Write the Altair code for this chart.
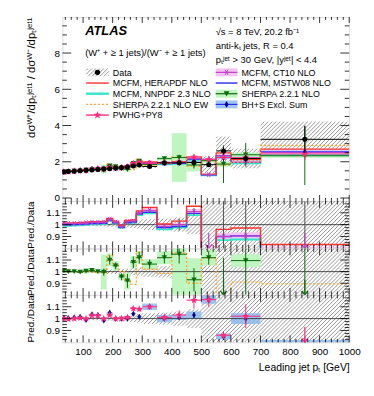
import math
import pandas as pd
import altair as alt

# ---------------- values ----------------
edges = [30, 40, 60, 80, 100, 120, 140, 160, 180, 200, 220, 240, 260, 280, 300,
         350, 400, 450, 500, 550, 600, 700, 1000]
data_val = [1.44, 1.46, 1.48, 1.50, 1.53, 1.55, 1.57, 1.60, 1.62, 1.65, 1.68, 1.71, 1.77, 1.82,
            1.74, 1.94, 1.94, 1.96, 1.84, 2.60, 2.18, 3.24]
data_stat = [0.010, 0.010, 0.010, 0.010, 0.010, 0.012, 0.012, 0.015, 0.015, 0.020, 0.020, 0.025, 0.030, 0.035,
             0.040, 0.060, 0.070, 0.090, 0.100, 0.200, 0.180, 0.750]
data_unc = [0.012, 0.010, 0.010, 0.010, 0.012, 0.012, 0.014, 0.015, 0.018, 0.020, 0.022, 0.025, 0.030, 0.035,
            0.045, 0.050, 0.060, 0.080, 0.250, 0.300, 0.250, 0.300]
r_herapdf = [1.012, 1.012, 1.014, 1.016, 1.020, 1.025, 1.025, 1.028, 1.053, 1.030, 0.995, 1.035, 1.040, 1.115,
             1.145, 1.005, 1.030, 1.155, 0.720, 0.960, 0.972, 0.833]
r_ct10 = [1.010, 1.010, 1.010, 1.012, 1.015, 1.020, 1.020, 1.022, 1.045, 1.022, 0.985, 1.025, 1.030, 1.100,
          1.120, 0.985, 1.000, 1.110, 0.700, 0.900, 0.905, 0.775]
r_ct10_unc = [0.008, 0.008, 0.008, 0.008, 0.008, 0.008, 0.008, 0.008, 0.008, 0.008, 0.008, 0.008, 0.008, 0.010,
              0.012, 0.015, 0.015, 0.020, 0.030, 0.035, 0.035, 0.050]
r_ct10_err = [0.004, 0.004, 0.004, 0.004, 0.005, 0.005, 0.005, 0.006, 0.006, 0.006, 0.007, 0.008, 0.008, 0.010,
              0.012, 0.015, 0.050, 0.030, 0.100, 0.350, 0.300, 0.500]
r_mstw = [0.998, 0.998, 1.000, 1.002, 1.005, 1.010, 1.010, 1.012, 1.038, 1.015, 0.980, 1.018, 1.022, 1.090,
          1.105, 0.975, 0.985, 1.095, 0.690, 0.900, 0.905, 0.785]
r_nnpdf = [0.990, 0.990, 0.992, 0.995, 0.998, 1.002, 1.002, 1.005, 1.030, 1.008, 0.972, 1.010, 1.015, 1.080,
           1.095, 0.960, 0.975, 1.080, 0.680, 0.870, 0.875, 0.730]
r_sherpa = [1.006, 1.000, 1.000, 0.995, 1.005, 1.010, 1.000, 0.995, 1.100, 1.050, 0.955, 0.920, 1.080, 1.120,
            1.065, 1.120, 1.150, 0.930, 1.120, 0.720, 1.095, 0.720]
r_sherpa_unc = [0.010, 0.008, 0.008, 0.010, 0.020, 0.015, 0.015, 0.150, 0.050, 0.040, 0.030, 0.080, 0.050, 0.050,
                0.040, 0.050, 0.600, 0.200, 0.060, 0.080, 0.050, 0.050]
r_sherpa_err = [0.008, 0.006, 0.006, 0.008, 0.010, 0.010, 0.012, 0.030, 0.040, 0.030, 0.030, 0.060, 0.050, 0.050,
                0.040, 0.050, 0.080, 0.100, 0.060, 0.400, 0.300, 0.500]
r_sherpa_ew = [1.006, 1.000, 1.000, 0.995, 1.000, 1.005, 0.995, 0.990, 1.140, 1.060, 1.000, 0.930, 0.890, 1.170,
               1.020, 0.985, 1.160, 0.900, 1.120, 0.700, 0.910, 0.895]
r_pwhg = [1.000, 0.995, 1.000, 1.005, 1.000, 1.025, 1.025, 1.000, 1.030, 1.000, 1.000, 1.010, 1.085, 1.080,
          1.100, 1.010, 1.030, 1.155, 1.160, 0.860, 1.020, 0.750]
r_pwhg_err = [0.010, 0.010, 0.010, 0.010, 0.010, 0.010, 0.010, 0.012, 0.012, 0.012, 0.012, 0.015, 0.020, 0.020,
              0.020, 0.030, 0.040, 0.070, 0.060, 0.030, 0.100, 0.100]
r_bhs = [1.005, 1.005, 1.010, 1.015, 0.990, 1.035, 1.030, 0.985, 1.050, 1.000, 1.000, 1.000, 1.040, 1.015,
         1.100, 1.000, 1.010, 1.030, 1.160, 0.850, 1.000, 0.780]
r_bhs_unc = [0.006, 0.006, 0.006, 0.006, 0.006, 0.006, 0.006, 0.006, 0.006, 0.006, 0.006, 0.006, 0.006, 0.006,
             0.025, 0.030, 0.020, 0.030, 0.030, 0.030, 0.045, 0.050]
r_bhs_err = [0.006, 0.006, 0.006, 0.006, 0.006, 0.008, 0.008, 0.008, 0.010, 0.010, 0.010, 0.010, 0.012, 0.012,
             0.015, 0.020, 0.020, 0.025, 0.030, 0.030, 0.040, 0.050]

x_major = [100, 200, 300, 400, 500, 600, 700, 800, 900, 1000]
x_minor = [40, 60, 80, 120, 140, 160, 180, 220, 240, 260, 280, 320, 340, 360, 380, 420, 440, 460, 480,
           520, 540, 560, 580, 620, 640, 660, 680, 720, 740, 760, 780, 820, 840, 860, 880, 920, 940, 960, 980]
main_y_major = [0, 2, 4, 6, 8]
main_y_minor = [0.5, 1, 1.5, 2.5, 3, 3.5, 4.5, 5, 5.5, 6.5, 7, 7.5, 8.5, 9, 9.5]
ratio_y_major = [0.9, 1.0, 1.1]
ratio_y_minor = [0.825, 0.85, 0.875, 0.925, 0.95, 0.975, 1.025, 1.05, 1.075, 1.125, 1.15, 1.175]

legend_left = ["Data", "MCFM, HERAPDF NLO", "MCFM, NNPDF 2.3 NLO", "SHERPA 2.2.1 NLO EW", "PWHG+PY8"]
legend_right = ["MCFM, CT10 NLO", "MCFM, MSTW08 NLO", "SHERPA 2.2.1 NLO", "BH+S Excl. Sum"]

# ---------------- layout / style ----------------
W = 290
X0, X1 = 30.0, 1000.0
H_MAIN = 186
H_R = [48, 47, 48]
DOM_MAIN = [-0.16, 9.99]
DOM_R = [0.8, 1.2]
FONT = "Liberation Sans"

C_RED = "#ff3030"
C_CYAN = "#30e8c8"
C_ORANGE = "#ffa530"
C_PINK = "#ff2a7f"
C_MAG = "#c040c8"
C_MAG_BAND = "#f4c4f0"
C_BLUE = "#2a2aff"
C_GREEN = "#0b6b0b"
C_GREEN_BAND = "#bff5bf"
C_NAVY = "#0a0a80"
C_BLUE_BAND = "#86b8ee"
C_HATCH = "#505050"


def star_path(n=5, r_in=0.42):
    pts = []
    for i in range(2 * n):
        ang = -math.pi / 2 + i * math.pi / n
        r = 1.0 if i % 2 == 0 else r_in
        pts.append((r * math.cos(ang), r * math.sin(ang)))
    return "M" + "L".join(f"{x:.3f},{y:.3f}" for x, y in pts) + "Z"


STAR = star_path()
ASTER = "M-1,0L1,0M-0.5,-0.87L0.5,0.87M-0.5,0.87L0.5,-0.87"
DIAMOND = "M0,-1L0.62,0L0,1L-0.62,0Z"
ARROWHEAD = "M-1,-0.3L0,1L1,-0.3"

lo = edges[:-1]
hi = edges[1:]
ctr = [(a + b) / 2 for a, b in zip(lo, hi)]

XSC = alt.Scale(domain=[X0, X1], nice=False, zero=False)


class Panel:
    def __init__(self, dom, H, yaxis, xaxis=None):
        self.dom = dom
        self.H = H
        self.yaxis = yaxis
        self.xaxis = xaxis
        self.layers = []

    def X(self, f):
        return alt.X(f"{f}:Q", scale=XSC, axis=self.xaxis)

    def Y(self, f):
        return alt.Y(f"{f}:Q", scale=alt.Scale(domain=self.dom, nice=False, zero=False), axis=self.yaxis)

    def add(self, layer):
        self.layers.append(layer)

    def hatch(self, ylo, yhi, xlo=None, xhi=None, s=4.0):
        xlo = lo if xlo is None else xlo
        xhi = hi if xhi is None else xhi
        kx = W / (X1 - X0)
        ky = self.H / (self.dom[1] - self.dom[0])
        rows = []
        for a, b, c0, c1 in zip(xlo, xhi, ylo, yhi):
            u0 = (a - X0) * kx
            u1 = (b - X0) * kx
            v0 = max(0.0, (c0 - self.dom[0]) * ky)
            v1 = min(float(self.H), (c1 - self.dom[0]) * ky)
            if v1 - v0 < 0.3:
                continue
            kmin = math.ceil((u0 - v1) / s)
            kmax = math.floor((u1 - v0) / s)
            for k in range(kmin, kmax + 1):
                c = k * s
                us = max(u0, v0 + c)
                ue = min(u1, v1 + c)
                if ue - us > 0.05:
                    rows.append(dict(x=X0 + us / kx, y=self.dom[0] + (us - c) / ky,
                                     x2=X0 + ue / kx, y2=self.dom[0] + (ue - c) / ky))
        df = pd.DataFrame(rows)
        self.add(alt.Chart(df).mark_rule(color=C_HATCH, strokeWidth=0.6, clip=True).encode(
            x=self.X("x"), x2="x2", y=self.Y("y"), y2="y2"))

    def band(self, vals, unc, color, opacity=1.0):
        df = pd.DataFrame(dict(lo=lo, hi=hi, b0=[v * (1 - u) for v, u in zip(vals, unc)],
                               b1=[v * (1 + u) for v, u in zip(vals, unc)]))
        self.add(alt.Chart(df).mark_rect(fill=color, opacity=opacity, clip=True).encode(
            x=self.X("lo"), x2="hi", y=self.Y("b0"), y2="b1"))

    def step(self, vals, color, width=1.2, dash=None):
        df = pd.DataFrame(dict(x=edges, y=list(vals) + [vals[-1]]))
        kw = dict(interpolate="step-after", color=color, strokeWidth=width, clip=True)
        if dash:
            kw["strokeDash"] = dash
        self.add(alt.Chart(df).mark_line(**kw).encode(x=self.X("x"), y=self.Y("y")))

    def markers(self, vals, shape, color, size, filled=True, hbar=False, err=None, errcolor=None,
                stroke_w=1.0):
        df = pd.DataFrame(dict(c=ctr, lo=lo, hi=hi, v=vals))
        if err is not None:
            df["e0"] = [v - e for v, e in zip(vals, err)]
            df["e1"] = [v + e for v, e in zip(vals, err)]
            self.add(alt.Chart(df).mark_rule(color=errcolor or color, strokeWidth=1, clip=True).encode(
                x=self.X("c"), y=self.Y("e0"), y2="e1"))
        if hbar:
            self.add(alt.Chart(df).mark_rule(color=errcolor or color, strokeWidth=1, clip=True).encode(
                x=self.X("lo"), x2="hi", y=self.Y("v")))
        if filled:
            mk = alt.Chart(df).mark_point(shape=shape, filled=True, size=size, color=color, opacity=1,
                                          clip=True)
        else:
            mk = alt.Chart(df).mark_point(shape=shape, filled=False, size=size, color=color, opacity=1,
                                          strokeWidth=stroke_w, clip=True)
        self.add(mk.encode(x=self.X("c"), y=self.Y("v")))

    def arrows(self, vals, color):
        sel = [(c, v) for c, v in zip(ctr, vals) if v < self.dom[0]]
        if not sel:
            return
        df = pd.DataFrame(dict(c=[c for c, _ in sel], top=[0.93] * len(sel), bot=[0.812] * len(sel),
                               head=[0.826] * len(sel)))
        self.add(alt.Chart(df).mark_rule(color=color, strokeWidth=1.2).encode(
            x=self.X("c"), y=self.Y("top"), y2="bot"))
        self.add(alt.Chart(df).mark_point(shape=ARROWHEAD, filled=False, size=40, color=color,
                                          strokeWidth=1.2, opacity=1).encode(
            x=self.X("c"), y=self.Y("head")))

    def unity(self):
        df = pd.DataFrame(dict(v=[1.0]))
        self.add(alt.Chart(df).mark_rule(color="#222222", strokeWidth=0.8).encode(y=self.Y("v")))

    def ticks(self, ymaj, ymin, lxm, lxn, lym, lyn):
        H = self.H
        specs = [(x_major, lxm), (x_minor, lxn)]
        for vals, L in specs:
            df = pd.DataFrame(dict(t=vals))
            self.add(alt.Chart(df).mark_rule(color="black", strokeWidth=0.8).encode(
                x=self.X("t"), y=alt.value(H), y2=alt.value(H - L)))
            self.add(alt.Chart(df).mark_rule(color="black", strokeWidth=0.8).encode(
                x=self.X("t"), y=alt.value(0), y2=alt.value(L)))
        for vals, L in [(ymaj, lym), (ymin, lyn)]:
            df = pd.DataFrame(dict(t=vals))
            self.add(alt.Chart(df).mark_rule(color="black", strokeWidth=0.8).encode(
                y=self.Y("t"), x=alt.value(0), x2=alt.value(L)))
            self.add(alt.Chart(df).mark_rule(color="black", strokeWidth=0.8).encode(
                y=self.Y("t"), x=alt.value(W), x2=alt.value(W - L)))

    def text(self, s, px, py, size=8, **kw):
        df = pd.DataFrame(dict(a=[0]))
        self.add(alt.Chart(df).mark_text(text=s, align="left", baseline="alphabetic", fontSize=size,
                                         font=FONT, color="black", **kw).encode(
            x=alt.value(px), y=alt.value(py)))

    def chart(self):
        return alt.layer(*self.layers).properties(width=W, height=self.H)


def y_axis(values, title, tsize=10, tx=-27):
    return alt.Axis(values=values, title=title, ticks=False, domain=False, grid=False, labelFontSize=10,
                    labelPadding=3, format="~g", titleAnchor="end", titleX=tx, titleFontSize=tsize,
                    titleFontWeight="normal", labelFont=FONT, titleFont=FONT, labelColor="black",
                    titleColor="black")


x_axis_bottom = alt.Axis(values=x_major, title="Leading jet pₜ [GeV]", ticks=False, domain=False, grid=False,
                         labelFontSize=10, labelPadding=4, format="d", titleAnchor="end", titleFontSize=10.5,
                         titleFontWeight="normal", titlePadding=6, labelFont=FONT, titleFont=FONT,
                         labelColor="black", titleColor="black", labelFlush=False)

# ---------------- main panel ----------------
M = Panel(DOM_MAIN, H_MAIN, y_axis(main_y_major, "dσᵂ⁺/dpₜʲᵉᵗ¹ / dσᵂ⁻/dpₜʲᵉᵗ¹", tsize=11.5, tx=-26))


def mul(r):
    return [d * v for d, v in zip(data_val, r)]


M.hatch([d * (1 - u) for d, u in zip(data_val, data_unc)], [d * (1 + u) for d, u in zip(data_val, data_unc)])
M.band(mul(r_sherpa), r_sherpa_unc, C_GREEN_BAND)
M.band(mul(r_bhs), r_bhs_unc, C_BLUE_BAND, 0.8)
M.band(mul(r_ct10), r_ct10_unc, C_MAG_BAND)
M.step(mul(r_nnpdf), C_CYAN, 1.8)
M.step(mul(r_mstw), C_BLUE, 1.2)
M.step(mul(r_ct10), C_MAG, 1.0)
M.step(mul(r_herapdf), C_RED, 1.2)
M.step(mul(r_sherpa_ew), C_ORANGE, 1.4, [2, 2])
M.markers(mul(r_ct10), ASTER, C_MAG, 30, filled=False)
M.markers(mul(r_sherpa), "triangle-down", C_GREEN, 30, hbar=True,
          err=[d * e for d, e in zip(data_val, r_sherpa_err)])
M.markers(mul(r_bhs), DIAMOND, C_NAVY, 40, err=[d * e for d, e in zip(data_val, r_bhs_err)])
M.markers(mul(r_pwhg), STAR, C_PINK, 60, hbar=True, err=[d * e for d, e in zip(data_val, r_pwhg_err)])
M.markers(data_val, "circle", "black", 26, hbar=True, err=data_stat)

# header texts (plot-relative pixel positions)
M.text("ATLAS", 23, 18.5, size=13, fontStyle="italic", fontWeight="bold")
M.text("(W⁺ + ≥ 1 jets)/(W⁻ + ≥ 1 jets)", 23, 39, size=9.5)
M.text("√s = 8 TeV, 20.2 fb⁻¹", 155, 18.5, size=9.5)
M.text("anti-kₜ jets, R = 0.4", 155, 32.5, size=9.5)
M.text("pₜʲᵉᵗ > 30 GeV, |yʲᵉᵗ| < 4.4", 155, 47, size=9.5)

# legend (pixel layout converted to data coordinates of the main panel)
KX = W / (X1 - X0)
KY = H_MAIN / (DOM_MAIN[1] - DOM_MAIN[0])


def pxX(px):
    return X0 + px / KX


def pyY(py):
    return DOM_MAIN[0] + (H_MAIN - py) / KY


ROW0, DROW = 56.0, 10.8
LX0, LX1, LTX = 24.0, 47.0, 51.0
RX0, RX1, RTX = 155.0, 177.0, 181.0
rows_l = [ROW0 + i * DROW for i in range(len(legend_left))]
rows_r = [ROW0 + i * DROW for i in range(len(legend_right))]

for lab, ry in zip(legend_left, rows_l):
    M.text(lab, LTX, ry + 3.3, size=9)
for lab, ry in zip(legend_right, rows_r):
    M.text(lab, RTX, ry + 3.3, size=9)


def leg_box(x0, x1, ry, color, opacity=1.0):
    df = pd.DataFrame(dict(a=[pxX(x0)], b=[pxX(x1)], c=[pyY(ry + 4)], d=[pyY(ry - 4)]))
    M.add(alt.Chart(df).mark_rect(fill=color, opacity=opacity).encode(x=M.X("a"), x2="b", y=M.Y("c"), y2="d"))


def leg_line(x0, x1, ry, color, width=1.2, dash=None):
    df = pd.DataFrame(dict(a=[pxX(x0)], b=[pxX(x1)], c=[pyY(ry)]))
    kw = dict(color=color, strokeWidth=width)
    if dash:
        kw["strokeDash"] = dash
    M.add(alt.Chart(df).mark_rule(**kw).encode(x=M.X("a"), x2="b", y=M.Y("c")))


def leg_pt(xc, ry, shape, color, size, filled=True):
    df = pd.DataFrame(dict(a=[pxX(xc)], c=[pyY(ry)]))
    if filled:
        mk = alt.Chart(df).mark_point(shape=shape, filled=True, size=size, color=color, opacity=1)
    else:
        mk = alt.Chart(df).mark_point(shape=shape, filled=False, size=size, color=color, opacity=1, strokeWidth=1)
    M.add(mk.encode(x=M.X("a"), y=M.Y("c")))


# Data entry
M.hatch([pyY(rows_l[0] + 4)], [pyY(rows_l[0] - 4)], xlo=[pxX(LX0)], xhi=[pxX(LX1)])
leg_pt((LX0 + LX1) / 2, rows_l[0], "circle", "black", 30)
leg_line(LX0, LX1, rows_l[1], C_RED, 1.4)
leg_line(LX0, LX1, rows_l[2], C_CYAN, 2.4)
leg_line(LX0, LX1, rows_l[3], C_ORANGE, 1.4, [2, 2])
leg_line(LX0, LX1, rows_l[4], C_PINK, 1.4)
leg_pt((LX0 + LX1) / 2, rows_l[4], STAR, C_PINK, 70)
leg_box(RX0, RX1, rows_r[0], C_MAG_BAND)
leg_line(RX0, RX1, rows_r[0], C_MAG, 1.2)
leg_pt((RX0 + RX1) / 2, rows_r[0], ASTER, C_MAG, 36, filled=False)
leg_line(RX0, RX1, rows_r[1], C_BLUE, 1.4)
leg_box(RX0, RX1, rows_r[2], C_GREEN_BAND)
leg_line(RX0, RX1, rows_r[2], C_GREEN, 1.2)
leg_pt((RX0 + RX1) / 2, rows_r[2], "triangle-down", C_GREEN, 34)
leg_box(RX0, RX1, rows_r[3], C_BLUE_BAND, 0.8)
leg_line(RX0, RX1, rows_r[3], C_BLUE, 1.2)
leg_pt((RX0 + RX1) / 2, rows_r[3], DIAMOND, C_NAVY, 45)

M.ticks(main_y_major, main_y_minor, 6, 3, 9, 4.5)

# ---------------- ratio panel 1: MCFM ----------------
ones_lo = [1 - u for u in data_unc]
ones_hi = [1 + u for u in data_unc]

R1 = Panel(DOM_R, H_R[0], y_axis(ratio_y_major, "Pred./Data"))
R1.hatch(ones_lo, ones_hi)
R1.band(r_ct10, r_ct10_unc, C_MAG_BAND)
R1.unity()
R1.step(r_nnpdf, C_CYAN, 1.8)
R1.step(r_mstw, C_BLUE, 1.4)
R1.step(r_ct10, C_MAG, 1.0)
R1.step(r_herapdf, C_RED, 1.4)
R1.markers(r_ct10, ASTER, C_MAG, 30, filled=False, err=r_ct10_err, errcolor="#555555")
R1.arrows(r_ct10, C_MAG)
R1.ticks(ratio_y_major, ratio_y_minor, 7, 3.5, 9, 4.5)

# ---------------- ratio panel 2: SHERPA ----------------
R2 = Panel(DOM_R, H_R[1], y_axis(ratio_y_major, "Pred./Data"))
R2.hatch(ones_lo, ones_hi)
R2.band(r_sherpa, r_sherpa_unc, C_GREEN_BAND)
R2.unity()
R2.step(r_sherpa_ew, C_ORANGE, 1.4, [2, 2])
R2.markers(r_sherpa, "triangle-down", C_GREEN, 30, hbar=True, err=r_sherpa_err)
R2.arrows(r_sherpa, C_GREEN)
R2.ticks(ratio_y_major, ratio_y_minor, 7, 3.5, 9, 4.5)

# ---------------- ratio panel 3: PWHG / BH+S ----------------
R3 = Panel(DOM_R, H_R[2], y_axis(ratio_y_major, "Pred./Data"), xaxis=x_axis_bottom)
R3.hatch(ones_lo, ones_hi)
R3.band(r_bhs, r_bhs_unc, C_BLUE_BAND, 0.8)
R3.unity()
R3.markers(r_bhs, DIAMOND, C_NAVY, 40, err=r_bhs_err)
R3.markers(r_pwhg, STAR, C_PINK, 60, hbar=True, err=r_pwhg_err)
R3.arrows(r_pwhg, C_PINK)
R3.ticks(ratio_y_major, ratio_y_minor, 7, 3.5, 9, 4.5)

chart = alt.vconcat(M.chart(), R1.chart(), R2.chart(), R3.chart(), spacing=0, bounds="flush").properties(
    padding={"left": 17, "top": 6, "right": 5, "bottom": 5}
).configure_view(stroke="black", strokeWidth=1).configure(background="white")

chart.save("out.html", embed_options={"renderer": "svg", "actions": False})
